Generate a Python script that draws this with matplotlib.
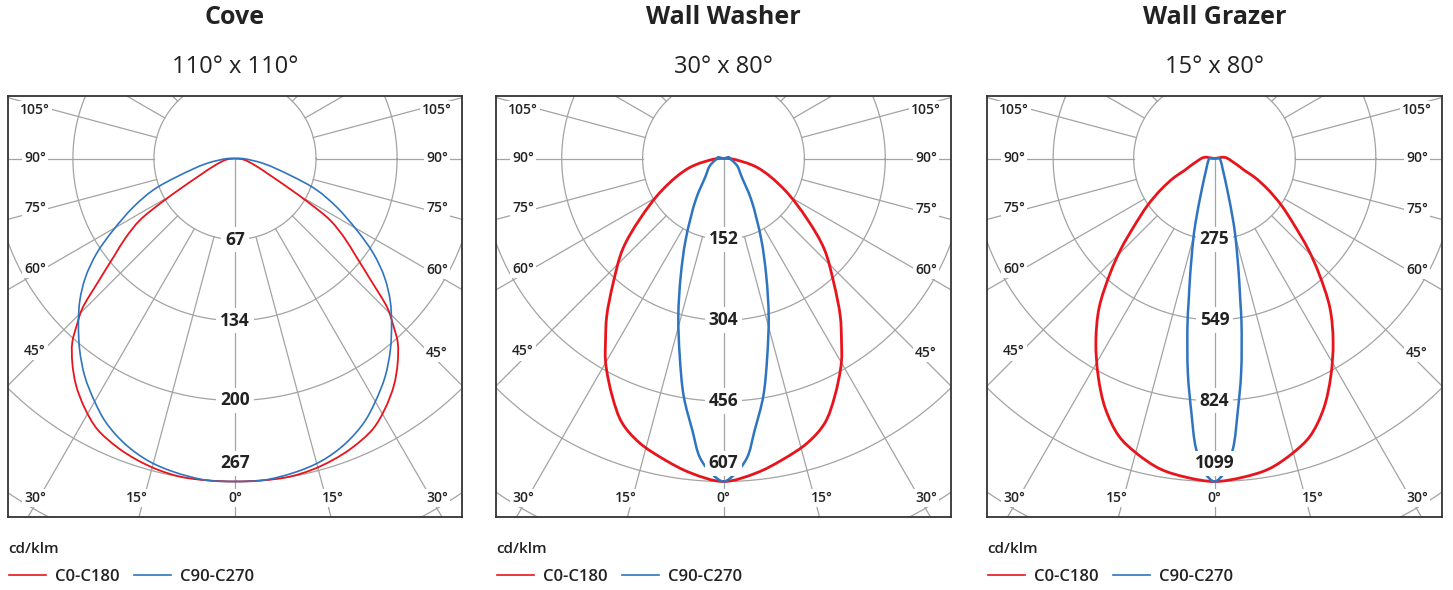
import numpy as np
import matplotlib.pyplot as plt
from matplotlib.path import Path
from matplotlib.patches import PathPatch
from matplotlib.lines import Line2D

plt.rcParams['font.family'] = ['Open Sans', 'DejaVu Sans']

# Data: half profiles (angle from nadir in degrees, cd/klm), symmetric planes
titles = ["Cove", "Wall Washer", "Wall Grazer"]
beams = ["110° x 110°", "30° x 80°", "15° x 80°"]
ring_values = [
    [67, 134, 200, 267, 334],
    [152, 304, 456, 607, 759],
    [275, 549, 824, 1099, 1374],
]
angle_ticks = [0, 15, 30, 45, 60, 75, 90, 105]
series_names = ["C0-C180", "C90-C270"]

cove_c0_ang = [0, 9, 14, 18, 22, 27, 31, 35, 38.5, 41.5, 43.5, 45.5, 48, 51, 54, 57, 59, 61, 64.5, 71.5, 83, 90]
cove_c0_val = [267, 267, 265, 262, 258, 251, 241, 229, 216, 203, 190, 177, 152, 129, 112, 94, 72, 52, 32, 17, 7, 0]
cove_c90_ang = [0, 5, 11, 16, 21, 26, 30, 34.5, 39, 43.5, 47.5, 51.5, 55.5, 59.5, 64.5, 69, 73, 80, 90, 95]
cove_c90_val = [267, 267, 264, 260, 253, 243, 232, 219, 204, 188, 174, 158, 139, 117, 93, 72, 48, 24, 6, 0]

ww_c0_ang = [0, 6, 11, 16.5, 21, 25, 30, 33, 36.5, 41.5, 48, 54, 63, 75, 88, 95]
ww_c0_val = [607, 594, 577, 557, 532, 494, 443, 407, 369, 313, 255, 195, 128, 66, 14, 0]
ww_c90_ang = [0, 2, 4.5, 6.5, 9.5, 12.5, 16, 20, 25, 34, 45, 61, 75, 90, 102, 110]
ww_c90_val = [607, 594, 564, 515, 453, 380, 308, 235, 168, 93, 48, 30, 18, 12, 11, 0]

wg_c0_ang = [0, 5, 10, 15, 19, 23.6, 28.1, 32.9, 37.7, 42.3, 46, 50, 55, 60, 65, 68, 72, 82, 90, 97, 105]
wg_c0_val = [1099, 1089, 1072, 1036, 999, 928, 840, 743, 642, 527, 442, 356, 278, 209, 150, 112, 90, 58, 45, 34, 0]
wg_c90_ang = [0, 1.8, 3.65, 5.2, 7.1, 9.35, 10.2, 11.9, 12.95, 14.6, 16.5, 22.6, 38.7, 65, 90, 100]
wg_c90_val = [1099, 1069, 989, 868, 734, 565, 498, 400, 349, 288, 227, 111, 44, 24, 17, 0]

curves = [
    [(cove_c0_ang, cove_c0_val), (cove_c90_ang, cove_c90_val)],
    [(ww_c0_ang, ww_c0_val), (ww_c90_ang, ww_c90_val)],
    [(wg_c0_ang, wg_c0_val), (wg_c90_ang, wg_c90_val)],
]

# Layout (pixels)
W, H = 1453, 590
boxes = [(8, 462), (496, 951), (987, 1442)]
box_top, box_bot = 96, 517
origin_y = 158.5
R_OUT = 323.0
colors = ["#e8141c", "#2f74c0"]
widths = [[1.3, 1.2], [2.0, 1.8], [2.0, 1.8]]
grid_col = "#a3a3a3"
text_col = "#222222"


def smooth_path(x, y, alpha=0.5):
    # centripetal Catmull-Rom through the read points, as cubic Bezier segments
    p = np.column_stack([x, y])
    p = np.vstack([2 * p[0] - p[1], p, 2 * p[-1] - p[-2]])
    verts = [p[1]]
    codes = [Path.MOVETO]
    for j in range(1, len(p) - 2):
        p0, p1, p2, p3 = p[j - 1], p[j], p[j + 1], p[j + 2]
        d01 = max(np.linalg.norm(p1 - p0) ** alpha, 1e-9)
        d12 = max(np.linalg.norm(p2 - p1) ** alpha, 1e-9)
        d23 = max(np.linalg.norm(p3 - p2) ** alpha, 1e-9)
        m1 = p2 - p1 + d12 * ((p1 - p0) / d01 - (p2 - p0) / (d01 + d12))
        m2 = p2 - p1 + d12 * ((p3 - p2) / d23 - (p3 - p1) / (d12 + d23))
        verts += [p1 + m1 / 3, p2 - m2 / 3, p2]
        codes += [Path.CURVE4] * 3
    return Path(verts, codes)


fig = plt.figure(figsize=(W / 100, H / 100), dpi=100)

for i in range(3):
    x0, x1 = boxes[i]
    cx = (x0 + x1) / 2
    ax = fig.add_axes([x0 / W, 1 - box_bot / H, (x1 - x0) / W, (box_bot - box_top) / H])
    rings = ring_values[i]
    upp = rings[3] / R_OUT
    ax.set_xlim(-(cx - x0) * upp, (x1 - cx) * upp)
    ax.set_ylim(-(box_bot - origin_y) * upp, (origin_y - box_top) * upp)
    ax.set_xticks([])
    ax.set_yticks([])
    for s in ax.spines.values():
        s.set_color("#333333")
        s.set_linewidth(1.3)

    # rings
    t = np.linspace(0, 2 * np.pi, 500)
    for r in rings:
        ax.plot(r * np.cos(t), r * np.sin(t), color=grid_col, lw=0.9, zorder=1)

    # radial lines
    big = rings[-1] * 3
    for a in range(-180, 181, 15):
        ar = np.radians(a)
        r0 = 0 if a == 0 else rings[0]
        ax.plot([r0 * np.sin(ar), big * np.sin(ar)], [-r0 * np.cos(ar), -big * np.cos(ar)],
                color=grid_col, lw=0.9, zorder=1)

    # angle labels: bottom row up to 30 deg, side columns above
    xl = -(cx - x0 - 27) * upp
    xr = (x1 - 25 - cx) * upp
    yb = -(box_bot - 19 - origin_y) * upp
    for a in angle_ticks:
        nudge = 1.1 if 0 < a < 90 else (-1.5 if a > 90 else 0)
        for sgn in ([1] if a == 0 else [-1, 1]):
            ar = np.radians((a + nudge) * sgn)
            dx, dy = np.sin(ar), -np.cos(ar)
            if a <= 30:
                lx, ly = min(max(yb / dy * dx, xl), xr), yb
            else:
                side = xl if sgn < 0 else xr
                lx, ly = side, side / dx * dy
            ax.text(lx, ly, f"{a}°", fontsize=10, fontweight="semibold", color=text_col,
                    ha="center", va="center", zorder=5,
                    bbox=dict(boxstyle="square,pad=0.15", fc="white", ec="none"))

    # curves
    handles = []
    for k, (ang, val) in enumerate(curves[i]):
        ang = np.array(ang, dtype=float)
        val = np.array(val, dtype=float)
        th = np.radians(np.concatenate([-ang[:0:-1], ang]))
        vv = np.concatenate([val[:0:-1], val])
        ax.add_patch(PathPatch(smooth_path(vv * np.sin(th), -vv * np.cos(th)), fill=False,
                               ec=colors[k], lw=widths[i][k], zorder=3, joinstyle="round"))
        handles.append(Line2D([], [], color=colors[k], lw=1.2, label=series_names[k]))

    # ring labels
    for j, r in enumerate(rings[:4]):
        y = -r if j < 3 else -(r - 18 * upp)
        ax.text(0, y, str(r), fontsize=12.5, fontweight="bold", color=text_col,
                ha="center", va="center", zorder=6,
                bbox=dict(boxstyle="square,pad=0.22", fc="white", ec="none"))

    # titles
    fig.text(cx / W, 1 - 17.5 / H, titles[i], fontsize=18, fontweight="bold", color=text_col,
             ha="center", va="center")
    fig.text(cx / W, 1 - 67 / H, beams[i], fontsize=17, color=text_col, ha="center", va="center")

    # unit + legend
    fig.text(x0 / W, 1 - 549 / H, "cd/klm", fontsize=11, fontweight="semibold", color=text_col,
             ha="left", va="center")
    leg = ax.legend(handles=handles, loc="center left", bbox_to_anchor=((x0 + 1) / W, 1 - 577 / H),
                    bbox_transform=fig.transFigure, ncol=2, frameon=False, fontsize=12,
                    handlelength=2.2, handletextpad=0.55, columnspacing=0.9,
                    borderpad=0, borderaxespad=0)
    for txt in leg.get_texts():
        txt.set_fontweight("semibold")
        txt.set_color(text_col)

fig.savefig("out.png", dpi=100)
